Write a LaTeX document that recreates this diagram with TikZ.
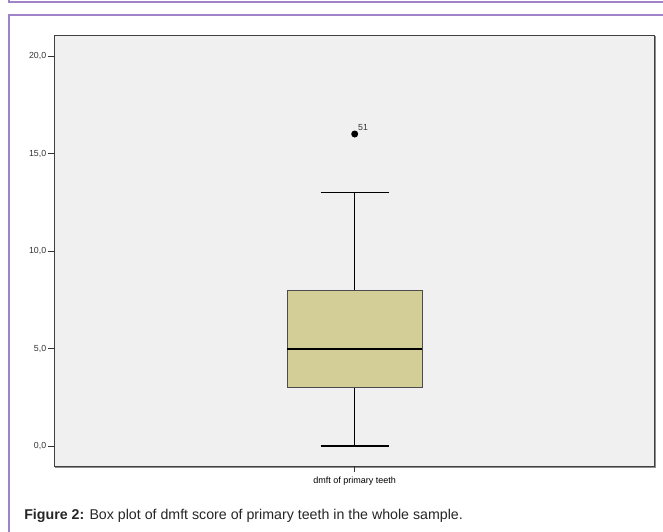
\documentclass[tikz,border=0pt]{standalone}
\usepackage{fontspec}
\setmainfont{Liberation Sans}
\usetikzlibrary{positioning,calc}
\definecolor{panelline}{RGB}{160,130,200}
\definecolor{plotbg}{RGB}{240,240,240}
\definecolor{boxfill}{RGB}{211,206,152}

\begin{document}
\begin{tikzpicture}[x=1pt, y=-1pt, semithick]
	\tikzstyle{tick label}=[anchor=east, font=\fontsize{8.8}{10}\selectfont, inner sep=1pt, text=black!80]
	\tikzstyle{whisker}=[black, line width=1.2pt]
	\useasboundingbox (0,0) rectangle (663,532);
	\fill[white] (0,0) rectangle (663,532);
	% panel edges
	\draw[panelline, line width=2pt] (8.8,0) -- (8.8,2) -- (663,2);
	\draw[panelline, line width=2pt] (8.8,532) -- (8.8,15.5) -- (663,15.5);
	% plot frame
	\coordinate (tl) at (54.5,35.7);
	\coordinate (br) at (654.5,466);
	\draw[black!45, line width=1.2pt] ($(tl)+(1.2,1.2)$) rectangle ($(br)+(1.2,1.2)$);
	\draw[fill=plotbg, draw=black!75, line width=0.8pt] (tl) rectangle (br);
	% y axis
	\foreach \v in {0,5,10,15,20} {
		\coordinate (t\v) at (54.5,{446-19.5*\v});
		\draw[black!80, line width=0.8pt] ($(t\v)+(-7,0)$) -- (t\v);
		\node[tick label] at ($(t\v)+(-7,0)$) {\v{,}0};
	}
	% box plot
	\coordinate (lo) at (354.7,{446-19.5*0});
	\coordinate (q1) at (354.7,{446-19.5*3});
	\coordinate (md) at (354.7,{446-19.5*5});
	\coordinate (q3) at (354.7,{446-19.5*8});
	\coordinate (hi) at (354.7,{446-19.5*13});
	\draw[fill=boxfill, draw=black!70, line width=0.9pt] ($(q1)+(-67.5,0)$) rectangle ($(q3)+(67.5,0)$);
	\draw[black, line width=2pt] ($(md)+(-67.5,0)$) -- ($(md)+(67.5,0)$);
	\draw[black, line width=0.9pt] (q1) -- (lo);
	\draw[black, line width=0.9pt] (q3) -- (hi);
	\draw[whisker] ($(lo)+(-34,0)$) -- ($(lo)+(34,0)$);
	\draw[whisker] ($(hi)+(-34,0)$) -- ($(hi)+(34,0)$);
	% outlier
	\node[circle, fill=black, inner sep=0pt, minimum size=7pt] (out51) at (354.7,{446-19.5*16}) {};
	\node[font=\fontsize{8.8}{10}\selectfont, text=black!80, inner sep=0pt, anchor=south west] (lab51) at ($(out51.north east)+(0.5,0)$) {51};
	% x axis
	\coordinate (xt) at (354.7,466);
	\draw[black!80, line width=0.8pt] (xt) -- ++(0,6);
	\node[font=\fontsize{9}{10}\selectfont, anchor=north, inner sep=1pt] (xlab) at ($(xt)+(0,10)$) {dmft of primary teeth};
	% caption
	\node[anchor=base west, inner sep=0pt, font=\fontsize{14.2}{16}\selectfont, text=black!85] (cap) at (24,519) {\textbf{Figure 2:} Box plot of dmft score of primary teeth in the whole sample.};
\end{tikzpicture}
\end{document}
